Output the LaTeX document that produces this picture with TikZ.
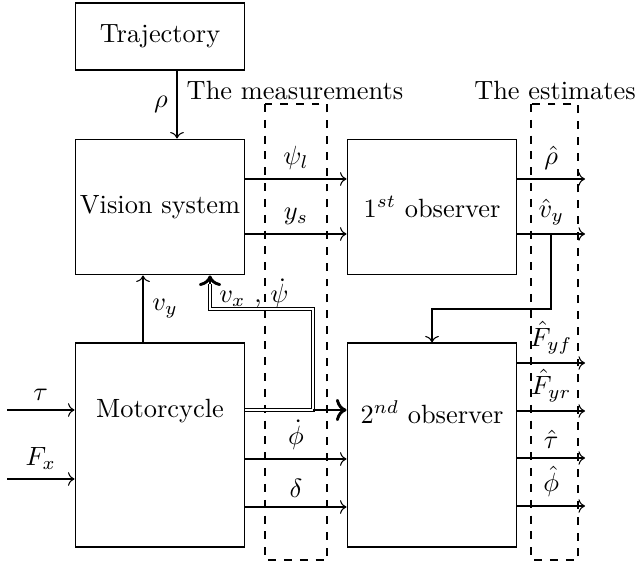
\documentclass[tikz,border=0pt]{standalone}
\usetikzlibrary{arrows.meta}
\begin{document}
\begin{tikzpicture}[x=0.379pt,y=-0.379pt,
  blk/.style={draw, rectangle, minimum width=64.4pt, inner sep=0pt},
  sig/.style={->},
  dbl/.style={double, double distance=0.7pt},
  thk/.style={line width=1.1pt, ->},
  grp/.style={draw, dashed}]
\useasboundingbox (0,0) rectangle (636,565);
% blocks
\node[blk, minimum height=25.4pt] (traj) at (160,36.5) {Trajectory};
\node[blk, minimum height=51.5pt] (vis) at (160,207) {Vision system};
\node[blk, minimum height=51.5pt] (obs1) at (432,207) {$1^{st}$ observer};
\node[blk, minimum height=77.3pt] (mot) at (160,445) {};
\node[blk, minimum height=77.3pt] (obs2) at (432,445) {};
\node (motl) at (160,411) {Motorcycle};
\node (obs2l) at (432,412) {$2^{nd}$ observer};
% groups
\draw[grp] (265,104) rectangle (327,560);
\draw[grp] (531,104) rectangle (578,560);
\node[anchor=base] (tmeas) at (295,100) {The measurements};
\node[anchor=base] (test) at (555,100) {The estimates};
% free ends
\coordinate (tauin) at (7,410);
\coordinate (fxin) at (7,479);
\coordinate (e1) at (585,179);
\coordinate (e2) at (585,234);
\coordinate (e3) at (585,363);
\coordinate (e4) at (585,411);
\coordinate (e5) at (585,458);
\coordinate (e6) at (585,506);
\coordinate (jn) at (313,410);
\coordinate (vb) at (551,234);
\coordinate (tipstart) at (210,284);
% connections
\draw[sig] (traj.south -| 177,0) -- (vis.north -| 177,0) node[midway,left] {$\rho$};
\draw[sig] (mot.north -| 143,0) -- (vis.south -| 143,0) node[midway,right] {$v_y$};
\draw[sig] (vis.east |- 0,179) -- (obs1.west |- 0,179) node[midway,above] {$\psi_l$};
\draw[sig] (vis.east |- 0,234) -- (obs1.west |- 0,234) node[midway,above] {$y_s$};
\draw[sig] (tauin) -- (mot.west |- tauin) node[midway,above] {$\tau$};
\draw[sig] (fxin) -- (mot.west |- fxin) node[midway,above] {$F_x$};
\draw[sig] (mot.east |- 0,459) -- (obs2.west |- 0,459) node[midway,above] {$\dot{\phi}$};
\draw[sig] (mot.east |- 0,507) -- (obs2.west |- 0,507) node[midway,above] {$\delta$};
\draw[dbl] (mot.east |- jn) -- (jn) -- (313,309) -- (210,309) -- (tipstart);
\draw[thk] (tipstart) -- (vis.south -| tipstart);
\node[anchor=base] (vxl) at (254,303) {$v_x$ , $\dot{\psi}$};
\draw[thk] (jn) -- (obs2.west |- jn);
\draw[sig] (obs1.east |- e1) -- (e1) node[midway,above] {$\hat{\rho}$};
\draw[sig] (obs1.east |- e2) -- (e2) node[midway,above] {$\hat{v}_y$};
\draw[sig] (vb) |- (432,309) -- (obs2.north);
\draw[sig] (obs2.east |- e3) -- (e3) node[midway,above] {$\hat{F}_{yf}$};
\draw[sig] (obs2.east |- e4) -- (e4) node[midway,above] {$\hat{F}_{yr}$};
\draw[sig] (obs2.east |- e5) -- (e5) node[midway,above] {$\hat{\tau}$};
\draw[sig] (obs2.east |- e6) -- (e6) node[midway,above] {$\hat{\phi}$};
\end{tikzpicture}
\end{document}
